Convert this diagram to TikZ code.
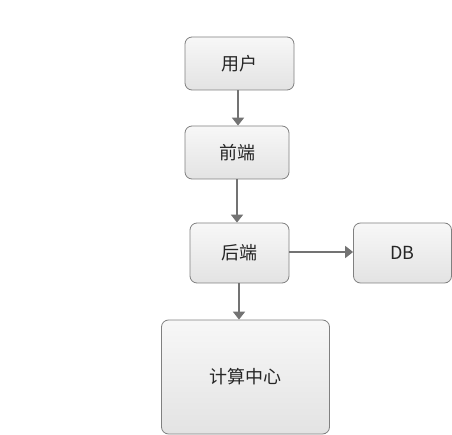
\documentclass[tikz,border=0pt]{standalone}
\usepackage{fontspec}
\newfontfamily\cjk{Noto Sans CJK SC}
\usetikzlibrary{arrows.meta}

\begin{document}
\begin{tikzpicture}[x = 1pt, y = -1pt,
    box/.style = {shape = rectangle, rounded corners = 7pt, draw = black!50, line width = 0.8pt,
        top color = black!3, bottom color = black!11, inner sep = 0pt,
        font = \cjk\fontsize{18}{21}\selectfont, text = black!85},
    link/.style = {draw = black!55, line width = 1.8pt, -{Triangle[width = 12pt, length = 8pt]}}]
    \useasboundingbox[fill = white] (0,0) rectangle (452,435);
    \node[box, minimum width = 109pt, minimum height = 53pt] (yonghu) at (239.5,63.5) {用户};
    \node[box, minimum width = 104pt, minimum height = 53pt] (qianduan) at (237,152.5) {前端};
    \node[box, minimum width = 99pt, minimum height = 60pt] (houduan) at (239.5,253) {后端};
    \node[box, minimum width = 98pt, minimum height = 60pt] (db) at (402.5,253) {DB};
    \node[box, minimum width = 168pt, minimum height = 114pt] (jisuan) at (245.5,377) {计算中心};
    \draw[link] (yonghu.south -| 238,0) -- (qianduan.north -| 238,0);
    \draw[link] (qianduan.south -| 237,0) -- (houduan.north -| 237,0);
    \draw[link] (houduan.south -| 239,0) -- (jisuan.north -| 239,0);
    \draw[link] (houduan.east |- 0,252) -- (db.west |- 0,252);
\end{tikzpicture}
\end{document}
